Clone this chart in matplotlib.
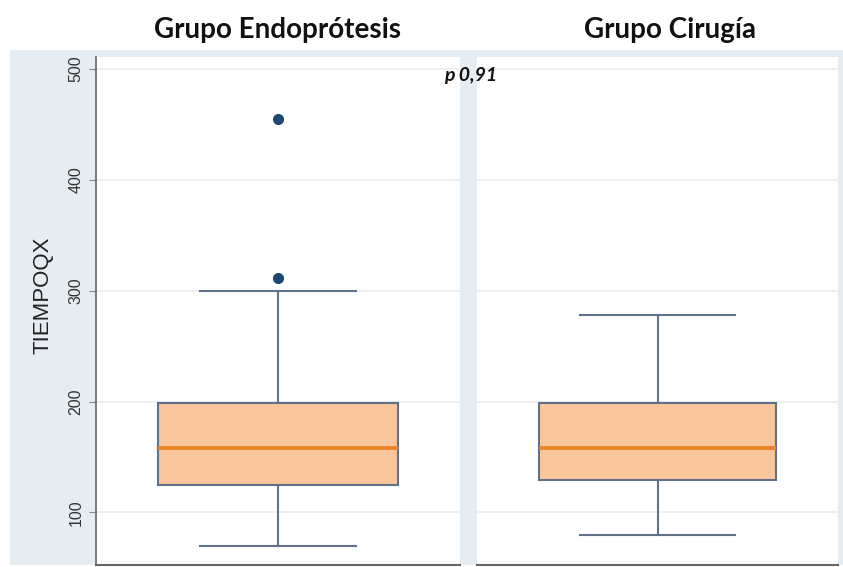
import matplotlib
matplotlib.use("Agg")
import matplotlib.pyplot as plt
from matplotlib.patches import Rectangle

# ---- data ----
groups = ["Grupo Endoprótesis", "Grupo Cirugía"]
whislo = [70, 80]
q1 = [125, 129]
med = [158, 158]
q3 = [199, 199]
whishi = [300, 278]
fliers = [[311, 455], []]
yticks = [100, 200, 300, 400, 500]
ylabel = "TIEMPOQX"
ptext = "p 0,91"

W, H = 843, 567
fig = plt.figure(figsize=(W / 100, H / 100), dpi=100)
fig.patch.set_facecolor("white")

def fx(px):
    return px / W

def fy(py):
    return 1 - py / H

# light blue-grey background band
fig.patches.append(Rectangle((fx(10), fy(565)), fx(843) - fx(10), fy(50) - fy(565),
                             transform=fig.transFigure, facecolor="#e5ecf2",
                             edgecolor="none", zorder=-10))

box_face = "#f9c79b"
edge_col = "#5f718b"
med_col = "#e9822b"
flier_col = "#1d4775"

panels = [(96, 460), (477, 838)]
axes = []
for i, (x0, x1) in enumerate(panels):
    ax = fig.add_axes([fx(x0), fy(565), fx(x1) - fx(x0), fy(57) - fy(565)])
    ax.set_facecolor("white")
    stats = [{
        "whislo": whislo[i], "q1": q1[i], "med": med[i], "q3": q3[i],
        "whishi": whishi[i], "fliers": fliers[i], "label": groups[i],
    }]
    ax.bxp(stats, positions=[0.5], widths=0.657, capwidths=0.43,
           patch_artist=True, showfliers=True,
           boxprops=dict(facecolor=box_face, edgecolor=edge_col, linewidth=1.5),
           medianprops=dict(color=med_col, linewidth=2.8),
           whiskerprops=dict(color=edge_col, linewidth=1.5),
           capprops=dict(color=edge_col, linewidth=1.5),
           flierprops=dict(marker="o", markerfacecolor=flier_col,
                           markeredgecolor=flier_col, markersize=7))
    ax.set_xlim(0, 1)
    ax.set_ylim(52.6, 510.6)
    ax.set_yticks(yticks)
    ax.set_xticks([])
    for y in yticks:
        ax.axhline(y, color="#ececec", linewidth=1.2, zorder=0)
    for s in ["top", "right"]:
        ax.spines[s].set_visible(False)
    ax.spines["bottom"].set_color("#666666")
    ax.spines["bottom"].set_linewidth(1.5)
    if i == 0:
        ax.spines["left"].set_color("#666666")
        ax.spines["left"].set_linewidth(1.2)
        ax.tick_params(axis="y", direction="out", length=5, color="#888888",
                       labelsize=11.5, labelcolor="#333333", pad=4)
        for lab in ax.get_yticklabels():
            lab.set_rotation(90)
            lab.set_va("center")
            lab.set_fontfamily("Liberation Sans")
        ax.set_ylabel(ylabel, fontsize=16, family="Liberation Sans",
                      color="#222222")
        ax.yaxis.set_label_coords(-0.118, 0.531)
    else:
        ax.spines["left"].set_visible(False)
        ax.tick_params(axis="y", left=False, labelleft=False)
    axes.append(ax)

fig.text(fx(278), fy(30), groups[0], ha="center", va="center",
         fontsize=20, fontweight="bold", family="Lato", color="#111111")
fig.text(fx(670), fy(30), groups[1], ha="center", va="center",
         fontsize=20, fontweight="bold", family="Lato", color="#111111")
fig.text(fx(497), fy(75), ptext, ha="right", va="center",
         fontsize=14, fontweight="bold", fontstyle="italic", family="Lato",
         color="#111111")

fig.savefig("out.png", dpi=100)
